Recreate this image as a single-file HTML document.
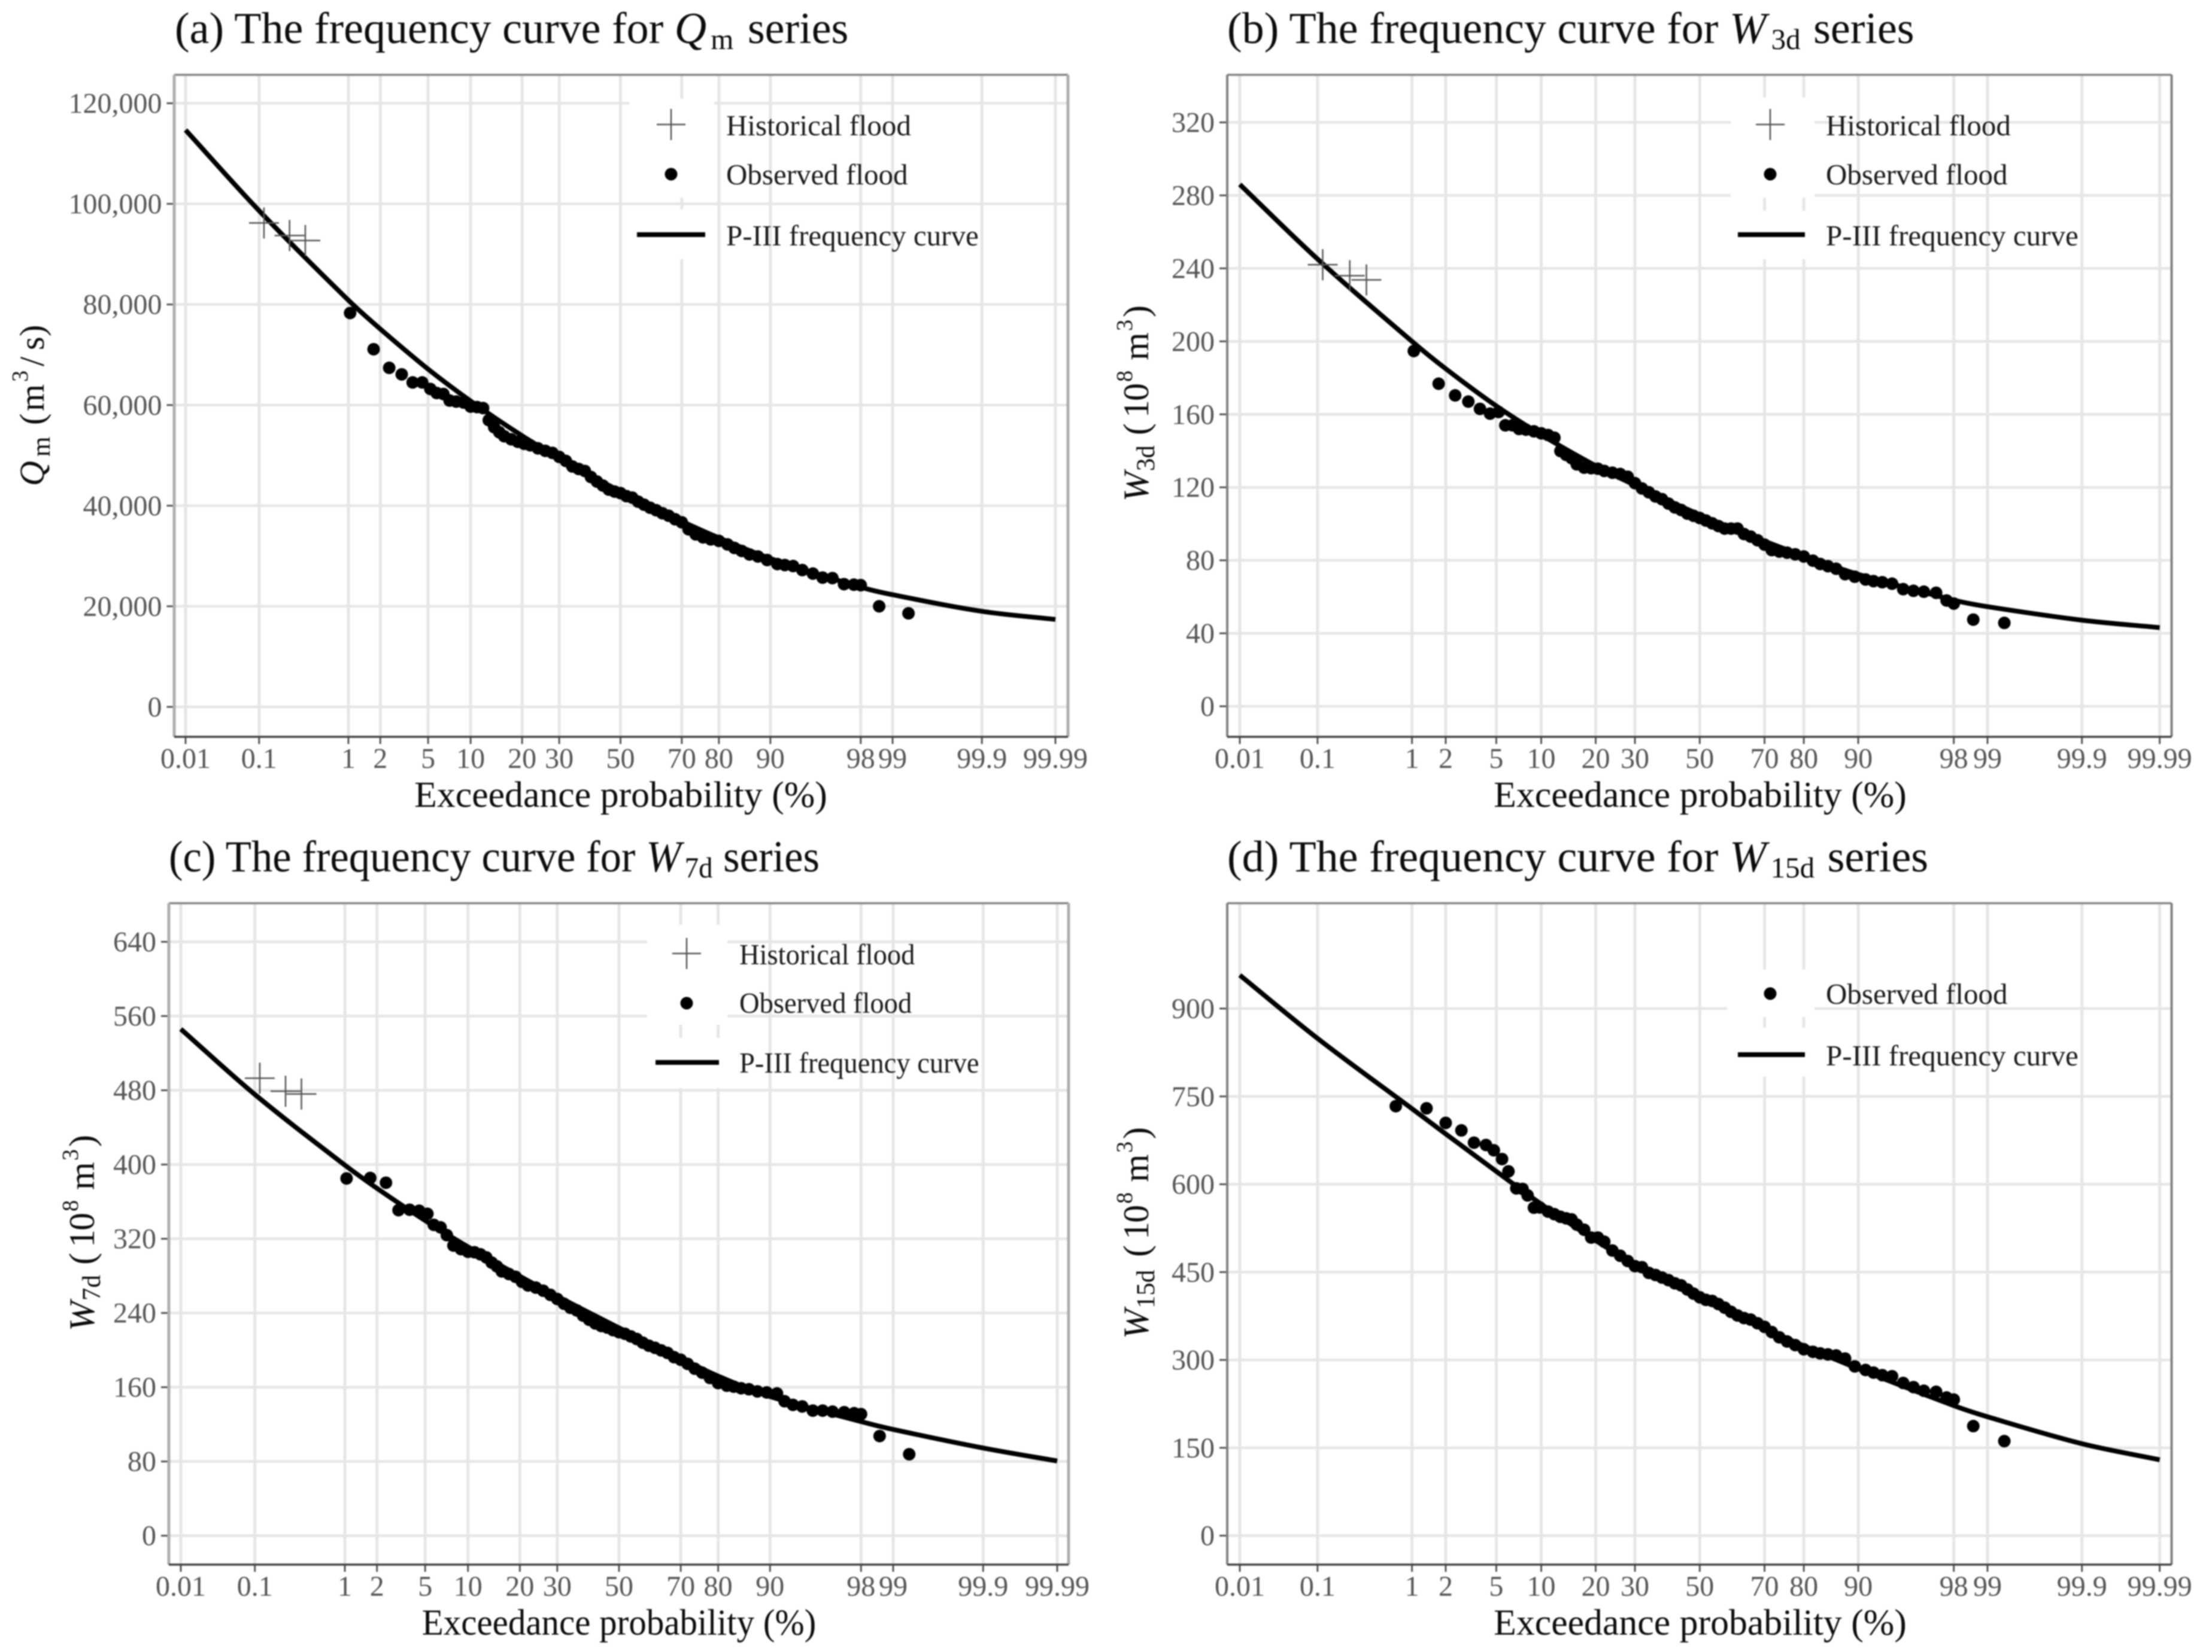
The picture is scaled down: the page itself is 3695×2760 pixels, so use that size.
<!DOCTYPE html>
<html lang="en">
<head>
<meta charset="utf-8">
<title>Frequency curves for flood series</title>
<style>
html,body{margin:0;padding:0;background:#fff;}
body{width:3695px;height:2760px;overflow:hidden;}
svg{display:block;filter:blur(1.1px);font-family:"Liberation Serif",serif;}
.ttl{font-size:74px;fill:#0c0c0c;}
.axt{font-size:61.8px;fill:#0c0c0c;}
.ayt{font-size:60px;fill:#0c0c0c;}
.leg{font-size:49px;fill:#1a1a1a;}
.tick{font-size:48px;fill:#555;}
.frameS{stroke:#aeaeae;stroke-width:5;}
.frameD{stroke:#808080;stroke-width:4;}
.frameT{stroke:#858585;stroke-width:3.5;}
.frameB{stroke:#444;stroke-width:3.5;}
</style>
</head>
<body>
<svg id="figure" xmlns="http://www.w3.org/2000/svg" width="3695" height="2760" viewBox="0 0 3695 2760">
<rect width="3695" height="2760" fill="#fff"/>

<!-- Panel a -->
<g>
<text class="ttl" x="292" y="72">(a) The frequency curve for <tspan font-style="italic">Q</tspan><tspan font-size="49" dy="10" dx="7">m</tspan><tspan dy="-10" dx="5"> series</tspan></text>
<g id="a-grid"></g>
<g>
<rect x="1051" y="165" width="142" height="165" fill="#fff"/>
<rect x="1051" y="350" width="142" height="83" fill="#fff"/>
<path d="M1097 208H1145M1121 182V234" stroke="#555" stroke-width="2.5" fill="none"/>
<circle cx="1121" cy="291" r="10.5" fill="#000"/>
<line x1="1064" y1="392" x2="1178" y2="392" stroke="#000" stroke-width="8"/>
</g>
<g id="a-marks"></g>
<text class="leg" x="1213" y="226">Historical flood</text>
<text class="leg" x="1213" y="308">Observed flood</text>
<text class="leg" x="1213" y="410">P-III frequency curve</text>
<g id="a-axes"></g>
<g>
<line class="frameT" x1="291" y1="125" x2="1784" y2="125"/><line class="frameS" x1="291" y1="125" x2="291" y2="1231"/><line class="frameS" x1="1784" y1="125" x2="1784" y2="1231"/><line class="frameB" x1="291" y1="1231" x2="1784" y2="1231"/>
</g>
<text class="axt" x="1037" y="1348" text-anchor="middle">Exceedance probability (%)</text>
<text class="ayt" font-size="58" style="font-size:58px" transform="translate(73,812) rotate(-90)"><tspan font-style="italic" x="0" y="0">Q</tspan><tspan style="font-size:43px" x="49" y="10">m</tspan><tspan x="102" y="0">(</tspan><tspan x="125" y="0">m</tspan><tspan style="font-size:38px" x="174" y="-27">3</tspan><tspan x="200" y="0">/</tspan><tspan x="227" y="0">s</tspan><tspan x="250" y="0">)</tspan></text>
</g>

<!-- Panel b -->
<g>
<text class="ttl" x="2050" y="72">(b) The frequency curve for <tspan font-style="italic">W</tspan><tspan font-size="49" dy="10" dx="8">3d</tspan><tspan dy="-10" dx="3"> series</tspan></text>
<g id="b-grid"></g>
<g>
<rect x="2891" y="163" width="140" height="167" fill="#fff"/>
<rect x="2891" y="352" width="140" height="81" fill="#fff"/>
<path d="M2933 208H2981M2957 182V234" stroke="#555" stroke-width="2.5" fill="none"/>
<circle cx="2957" cy="291" r="10.5" fill="#000"/>
<line x1="2903" y1="392" x2="3015" y2="392" stroke="#000" stroke-width="8"/>
</g>
<g id="b-marks"></g>
<text class="leg" x="3050" y="226">Historical flood</text>
<text class="leg" x="3050" y="308">Observed flood</text>
<text class="leg" x="3050" y="410">P-III frequency curve</text>
<g id="b-axes"></g>
<g>
<line class="frameT" x1="2050" y1="125" x2="3627.5" y2="125"/><line class="frameD" x1="2050" y1="125" x2="2050" y2="1231"/><line class="frameD" x1="3627.5" y1="125" x2="3627.5" y2="1231"/><line class="frameB" x1="2050" y1="1231" x2="3627.5" y2="1231"/>
</g>
<text class="axt" x="2840" y="1348" text-anchor="middle">Exceedance probability (%)</text>
<text class="ayt" transform="translate(1918,838) rotate(-90)"><tspan font-style="italic" x="0" y="0">W</tspan><tspan style="font-size:43px" x="51" y="10">3d</tspan><tspan x="111" y="0">(</tspan><tspan x="140" y="0">1</tspan><tspan x="168" y="0">0</tspan><tspan style="font-size:38px" x="200" y="-27">8</tspan><tspan x="236" y="0">m</tspan><tspan style="font-size:38px" x="285" y="-27">3</tspan><tspan x="308" y="0">)</tspan></text>
</g>

<!-- Panel c -->
<g>
<text class="ttl" transform="translate(282,1456) scale(0.955,1)">(c) The frequency curve for <tspan font-style="italic">W</tspan><tspan font-size="49" dy="10" dx="6">7d</tspan><tspan dy="-10"> series</tspan></text>
<g id="c-grid"></g>
<g>
<rect x="1081" y="1545" width="134" height="167" fill="#fff"/>
<rect x="1081" y="1734" width="134" height="84" fill="#fff"/>
<path d="M1123 1593H1171M1147 1567V1619" stroke="#555" stroke-width="2.5" fill="none"/>
<circle cx="1147" cy="1676" r="10.5" fill="#000"/>
<line x1="1095" y1="1775" x2="1201" y2="1775" stroke="#000" stroke-width="8"/>
</g>
<g id="c-marks"></g>
<text class="leg" transform="translate(1235,1611) scale(0.95,1)">Historical flood</text>
<text class="leg" transform="translate(1235,1692) scale(0.95,1)">Observed flood</text>
<text class="leg" transform="translate(1235,1792) scale(0.95,1)">P-III frequency curve</text>
<g id="c-axes"></g>
<g>
<line class="frameT" x1="282" y1="1509" x2="1785" y2="1509"/><line class="frameS" x1="282" y1="1509" x2="282" y2="2614"/><line class="frameS" x1="1785" y1="1509" x2="1785" y2="2614"/><line class="frameB" x1="282" y1="2614" x2="1785" y2="2614"/>
</g>
<text class="axt" transform="translate(1034,2731) scale(0.955,1)" text-anchor="middle">Exceedance probability (%)</text>
<text class="ayt" transform="translate(157,2224) rotate(-90)"><tspan font-style="italic" x="0" y="0">W</tspan><tspan style="font-size:43px" x="51" y="10">7d</tspan><tspan x="111" y="0">(</tspan><tspan x="140" y="0">1</tspan><tspan x="168" y="0">0</tspan><tspan style="font-size:38px" x="200" y="-27">8</tspan><tspan x="236" y="0">m</tspan><tspan style="font-size:38px" x="285" y="-27">3</tspan><tspan x="308" y="0">)</tspan></text>
</g>

<!-- Panel d -->
<g>
<text class="ttl" x="2050" y="1456">(d) The frequency curve for <tspan font-style="italic">W</tspan><tspan font-size="49" dy="10" dx="7">15d</tspan><tspan dy="-10" dx="3"> series</tspan></text>
<g id="d-grid"></g>
<g>
<rect x="2885" y="1620" width="146" height="79" fill="#fff"/>
<rect x="2885" y="1717" width="146" height="82" fill="#fff"/>
<circle cx="2957" cy="1660" r="10.5" fill="#000"/>
<line x1="2903" y1="1762" x2="3015" y2="1762" stroke="#000" stroke-width="8"/>
</g>
<g id="d-marks"></g>
<text class="leg" x="3050" y="1677">Observed flood</text>
<text class="leg" x="3050" y="1780">P-III frequency curve</text>
<g id="d-axes"></g>
<g>
<line class="frameT" x1="2050" y1="1509" x2="3627.5" y2="1509"/><line class="frameD" x1="2050" y1="1509" x2="2050" y2="2614"/><line class="frameD" x1="3627.5" y1="1509" x2="3627.5" y2="2614"/><line class="frameB" x1="2050" y1="2614" x2="3627.5" y2="2614"/>
</g>
<text class="axt" x="2840" y="2731" text-anchor="middle">Exceedance probability (%)</text>
<text class="ayt" transform="translate(1918,2237) rotate(-90)"><tspan font-style="italic" x="0" y="0">W</tspan><tspan style="font-size:43px" x="51" y="10">15d</tspan><tspan x="137" y="0">(</tspan><tspan x="166" y="0">1</tspan><tspan x="194" y="0">0</tspan><tspan style="font-size:38px" x="226" y="-27">8</tspan><tspan x="262" y="0">m</tspan><tspan style="font-size:38px" x="311" y="-27">3</tspan><tspan x="334" y="0">)</tspan></text>
</g>
</svg>

<script>
// ---- shared x axis values (exceedance probability, %) ----
const probTicks = [0.01, 0.1, 1, 2, 5, 10, 20, 30, 50, 70, 80, 90, 98, 99, 99.9, 99.99];
const probTickLabels = ["0.01", "0.1", "1", "2", "5", "10", "20", "30", "50", "70", "80", "90", "98", "99", "99.9", "99.99"];

// ---- probabilities where each P-III curve was read ----
const curveProb = [0.01, 0.1, 1, 2, 5, 10, 20, 30, 50, 70, 80, 90, 98, 99, 99.9, 99.99];

// ---- plotting positions of observed floods (panels a, b, c) ----
const observedProb = [1.04, 1.74, 2.4, 3.07, 3.78, 4.5, 5.2, 5.8, 6.5, 7.2, 8, 9, 10, 11, 12, 13, 14, 15, 16, 17.5, 19, 20.5, 22, 24, 26, 28, 30, 32, 34, 36, 38, 40, 42, 44, 46, 48, 50, 52, 54, 56, 58, 60, 62, 64, 66, 68, 70, 72, 74, 76, 78, 80, 82, 83.5, 85, 86.5, 88, 89.5, 91, 92, 93, 94, 95, 95.8, 96.5, 97.2, 97.7, 98, 98.65, 99.31];
// ---- plotting positions of observed floods (panel d, no historical floods) ----
const observedProbD = [0.7, 1.36, 2, 2.7, 3.4, 4.2, 4.8, 5.5, 6.1, 6.9, 7.6, 8.2, 9, 9.8, 11, 12, 13, 14, 15, 16, 17.5, 19, 20.5, 22, 24, 26, 28, 30, 32, 34, 36, 38, 40, 42, 44, 46, 48, 50, 52, 54, 56, 58, 60, 62, 64, 66, 68, 70, 72, 74, 76, 78, 80, 82, 83.5, 85, 86.5, 88, 89.5, 91, 92, 93, 94, 95, 95.8, 96.5, 97.2, 97.7, 98, 98.65, 99.31];
const historicalProb = [0.115, 0.233, 0.352];

// ---- panel a: Qm ----
const qmTicks = [0, 20000, 40000, 60000, 80000, 100000, 120000];
const qmTickLabels = ["0", "20,000", "40,000", "60,000", "80,000", "100,000", "120,000"];
const qmCurve = [114680, 98640, 80840, 75125, 67150, 60800, 53900, 49500, 42800, 36900, 33600, 29500, 23800, 22300, 19000, 17380];
const qmHistorical = [96200, 93700, 92700];
const qmObserved = [78300, 71100, 67400, 66100, 64500, 64500, 63200, 62400, 62200, 60900, 60700, 60500, 59700, 59600, 59400, 57000, 55600, 54600, 53800, 53200, 52700, 52300, 52000, 51400, 50900, 50500, 49700, 48900, 47800, 47300, 46900, 45700, 44800, 44000, 43200, 42800, 42500, 41900, 41600, 40800, 40200, 39600, 39100, 38500, 38000, 37300, 36700, 35300, 34300, 33700, 33300, 33000, 32300, 31600, 31000, 30300, 29900, 29200, 28400, 28200, 28000, 27200, 26500, 25700, 25600, 24400, 24300, 24200, 20000, 18600];

// ---- panel b: W3d ----
const w3dTicks = [0, 40, 80, 120, 160, 200, 240, 280, 320];
const w3dTickLabels = ["0", "40", "80", "120", "160", "200", "240", "280", "320"];
const w3dCurve = [286, 245.1, 200, 185, 164.6, 148.8, 131.8, 121.2, 105, 90.5, 82.5, 72.3, 58.2, 54.6, 47.2, 43.1];
const w3dHistorical = [242, 236, 233.7];
const w3dObserved = [194.7, 176.8, 170.4, 167, 163, 160.4, 161.3, 154, 154, 152, 151.6, 150.7, 149.6, 148.7, 147.2, 139.9, 137.8, 136, 132.6, 130.8, 130.5, 130.2, 129, 128, 127.3, 125.8, 122.3, 119.4, 117.3, 115, 113.5, 111.1, 109, 107.6, 105.6, 104.4, 103.2, 101.8, 100.3, 98.8, 97.4, 97.4, 97.4, 94.4, 93, 91, 88.6, 85.6, 84.8, 84.2, 83.3, 82.1, 79.8, 78, 76.8, 75.4, 72.4, 71, 69.5, 68.6, 68, 67.2, 64.2, 63.3, 62.8, 62.2, 58, 56.3, 47.5, 45.7];

// ---- panel c: W7d ----
const w7dTicks = [0, 80, 160, 240, 320, 400, 480, 560, 640];
const w7dTickLabels = ["0", "80", "160", "240", "320", "400", "480", "560", "640"];
const w7dCurve = [546, 475.5, 399.4, 374.4, 339.6, 311.3, 279.6, 258, 224, 191, 172, 150, 123, 114.5, 94.5, 80.5];
const w7dHistorical = [493, 479, 476];
const w7dObserved = [385, 385.5, 380.4, 350.8, 351.3, 350.2, 346.9, 335, 332.3, 323.9, 312.7, 308.8, 306, 305.5, 303.2, 299.9, 294.3, 290.3, 284.8, 282, 279, 273.6, 269.7, 267.4, 264, 259.6, 255.1, 250, 245.6, 242.8, 237.2, 232.7, 228.8, 226, 224.3, 221.5, 219.3, 217.6, 214.8, 212, 208, 204.8, 202.5, 199.7, 197, 192.4, 189.6, 185.2, 180, 175.7, 170, 164.5, 161.7, 160.6, 158.9, 157.8, 155.5, 154.4, 153.3, 144.9, 141, 139.3, 134.8, 134.8, 133.7, 133.1, 132, 131, 107.4, 87.8];

// ---- panel d: W15d ----
const w15dTicks = [0, 150, 300, 450, 600, 750, 900];
const w15dTickLabels = ["0", "150", "300", "450", "600", "750", "900"];
const w15dCurve = [957, 849, 729, 686, 622, 566, 504, 463, 405, 354, 324, 285, 222, 203, 157, 129.5];
const w15dObserved = [733.3, 729.7, 704.8, 692, 671, 667, 658, 643, 622, 593, 592, 581, 560, 560.4, 553.3, 548.9, 544.4, 541.8, 540, 531.1, 522.3, 509, 509, 501.9, 486.8, 477.9, 469, 460.2, 458.4, 448.7, 445.1, 440.7, 436.3, 430.9, 427.4, 420.3, 413.2, 407, 402.6, 400.8, 395.5, 389.3, 382.2, 376, 371.5, 368.9, 362.7, 356.5, 347.6, 338.7, 331.6, 325.4, 318.3, 313.9, 311.2, 309.5, 307.7, 302.4, 289, 282.9, 278.4, 274, 272.2, 260.7, 253.6, 247.4, 245.6, 235.9, 232.3, 187.1, 161.4];

const SVGNS = "http://www.w3.org/2000/svg";

function make(tag, attrs, parent) {
  const el = document.createElementNS(SVGNS, tag);
  for (const k in attrs) el.setAttribute(k, attrs[k]);
  parent.appendChild(el);
  return el;
}

// Normal quantile (Abramowitz & Stegun 26.2.23) for the probability axis.
function probit(percent) {
  const p = percent / 100;
  const q = p < 0.5 ? p : 1 - p;
  const t = Math.sqrt(-2 * Math.log(q));
  const z = t - (2.515517 + 0.802853 * t + 0.010328 * t * t) /
    (1 + 1.432788 * t + 0.189269 * t * t + 0.001308 * t * t * t);
  return p < 0.5 ? -z : z;
}

function drawPanel(cfg) {
  const zLo = probit(0.01), zHi = probit(99.99);
  const xScale = function (p) {
    return cfg.x0 + (probit(p) - zLo) / (zHi - zLo) * (cfg.x1 - cfg.x0);
  };
  const yScale = function (v) {
    return cfg.y0 + (v / cfg.yRefValue) * (cfg.yRef - cfg.y0);
  };
  const grid = document.getElementById(cfg.id + "-grid");
  const axes = document.getElementById(cfg.id + "-axes");
  const marks = document.getElementById(cfg.id + "-marks");

  cfg.yTicks.forEach(function (v, i) {
    const y = yScale(v);
    const g = make("line", { x1: cfg.left, x2: cfg.right, y1: y, y2: y, stroke: "#e6e6e6", "stroke-width": 4.5 }, grid);
    
    
    const t = make("line", { x1: cfg.left - 13, x2: cfg.left, y1: y, y2: y, stroke: "#555", "stroke-width": 3 }, axes);
    
    
    const l = make("text", { x: cfg.left - 21, y: y + 16, "text-anchor": "end", class: "tick" }, axes);
    
    
    l.textContent = cfg.yLabels[i];
  });

  probTicks.forEach(function (p, i) {
    const x = xScale(p);
    const g = make("line", { x1: x, x2: x, y1: cfg.top, y2: cfg.bottom, stroke: "#e6e6e6", "stroke-width": 5 }, grid);
    
    
    const t = make("line", { x1: x, x2: x, y1: cfg.bottom, y2: cfg.bottom + 12, stroke: "#555", "stroke-width": 3 }, axes);
    
    
    const l = make("text", { x: x, y: cfg.bottom + 52, "text-anchor": "middle", class: "tick" }, axes);
    
    
    l.textContent = probTickLabels[i];
  });

  // P-III curve: smooth cubic through the read nodes.
  const px = curveProb.map(xScale);
  const py = cfg.curve.map(yScale);
  const slope = function (i) {
    const a = Math.max(0, i - 1), b = Math.min(px.length - 1, i + 1);
    return (py[b] - py[a]) / (px[b] - px[a]);
  };
  let d = "M" + px[0].toFixed(1) + " " + py[0].toFixed(1);
  for (let i = 0; i < px.length - 1; i++) {
    const h = (px[i + 1] - px[i]) / 3;
    d += "C" + (px[i] + h).toFixed(1) + " " + (py[i] + slope(i) * h).toFixed(1) + " " +
      (px[i + 1] - h).toFixed(1) + " " + (py[i + 1] - slope(i + 1) * h).toFixed(1) + " " +
      px[i + 1].toFixed(1) + " " + py[i + 1].toFixed(1);
  }
  const curve = make("path", { d: d, fill: "none", stroke: "#000", "stroke-width": 8 }, marks);
  
  

  if (cfg.historical) {
    cfg.historical.forEach(function (v, i) {
      const x = xScale(historicalProb[i]), y = yScale(v);
      const m = make("path", { d: "M" + (x - 25) + " " + y + "H" + (x + 25) + "M" + x + " " + (y - 26) + "V" + (y + 26), fill: "none", stroke: "#555", "stroke-width": 2.5 }, marks);
      
      
    });
  }

  cfg.observed.forEach(function (v, i) {
    const c = make("circle", { cx: xScale(cfg.observedP[i]), cy: yScale(v), r: 10.5, fill: "#000" }, marks);
    
    
  });
}

drawPanel({ id: "a", left: 291.5, right: 1784, top: 125, bottom: 1231, x0: 310, x1: 1763, y0: 1181, yRef: 172.5, yRefValue: 120000,
  yTicks: qmTicks, yLabels: qmTickLabels, curve: qmCurve, historical: qmHistorical, observed: qmObserved, observedP: observedProb });
drawPanel({ id: "b", left: 2050, right: 3627.5, top: 125, bottom: 1231, x0: 2071, x1: 3607.6, y0: 1180, yRef: 204.5, yRefValue: 320,
  yTicks: w3dTicks, yLabels: w3dTickLabels, curve: w3dCurve, historical: w3dHistorical, observed: w3dObserved, observedP: observedProb });
drawPanel({ id: "c", left: 282, right: 1785, top: 1509, bottom: 2614, x0: 302, x1: 1766, y0: 2565.7, yRef: 1573.5, yRefValue: 640,
  yTicks: w7dTicks, yLabels: w7dTickLabels, curve: w7dCurve, historical: w7dHistorical, observed: w7dObserved, observedP: observedProb });
drawPanel({ id: "d", left: 2050, right: 3627.5, top: 1509, bottom: 2614, x0: 2071, x1: 3607.6, y0: 2565.6, yRef: 1685, yRefValue: 900,
  yTicks: w15dTicks, yLabels: w15dTickLabels, curve: w15dCurve, historical: null, observed: w15dObserved, observedP: observedProbD });
</script>
</body>
</html>
